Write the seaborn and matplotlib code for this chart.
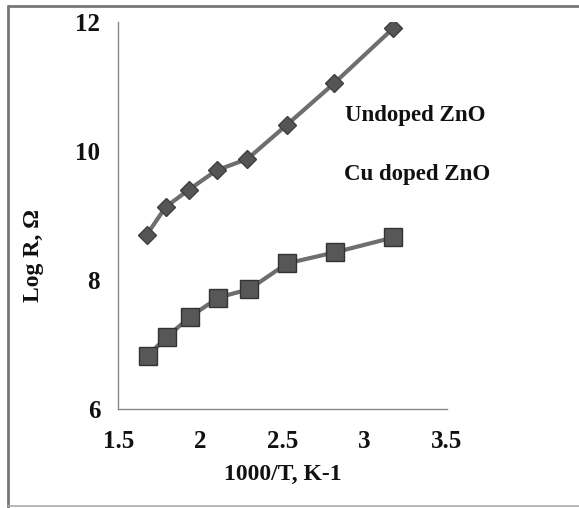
import matplotlib
matplotlib.use("Agg")
import matplotlib.pyplot as plt
import seaborn as sns
import pandas as pd
from matplotlib.lines import Line2D

x_undoped = [1.673, 1.788, 1.930, 2.099, 2.286, 2.525, 2.816, 3.175]
y_undoped = [8.70, 9.13, 9.40, 9.70, 9.875, 10.40, 11.05, 11.90]
x_cu = [1.679, 1.795, 1.937, 2.109, 2.298, 2.529, 2.820, 3.175]
y_cu = [6.83, 7.12, 7.43, 7.73, 7.86, 8.26, 8.43, 8.66]
xticks = [1.5, 2, 2.5, 3, 3.5]
xticklabels = ["1.5", "2", "2.5", "3", "3.5"]
yticks = [6, 8, 10, 12]
labels = ["Undoped ZnO", "Cu doped ZnO"]

sns.set_style("white")
plt.rcParams['font.family'] = ['Liberation Serif', 'DejaVu Serif']
plt.rcParams['font.weight'] = 'bold'

df1 = pd.DataFrame({"x": x_undoped, "y": y_undoped})
df2 = pd.DataFrame({"x": x_cu, "y": y_cu})

W, H = 579, 508
fig = plt.figure(figsize=(5.79, 5.08), dpi=100)
L, R, B, T = 118.3, 446.7, 409.3, 21.7
ax = fig.add_axes([L / W, 1 - B / H, (R - L) / W, (B - T) / H])

sns.lineplot(data=df1, x="x", y="y", ax=ax, color="#6e6e6e", linewidth=3.0,
             marker="D", markersize=9, markerfacecolor="#555555",
             markeredgecolor="#3f3f3f", markeredgewidth=1.0)
sns.lineplot(data=df2, x="x", y="y", ax=ax, color="#6e6e6e", linewidth=3.0,
             marker="s", markersize=13, markerfacecolor="#575757",
             markeredgecolor="#333333", markeredgewidth=1.0)

ax.set_xlim(1.5, 3.5)
ax.set_ylim(6, 12)
ax.set_xticks(xticks)
ax.set_xticklabels(xticklabels)
ax.set_yticks(yticks)
ax.set_yticklabels([str(t) for t in yticks])
for s in ["top", "right"]:
    ax.spines[s].set_visible(False)
for s in ["left", "bottom"]:
    ax.spines[s].set_color("#888888")
    ax.spines[s].set_linewidth(1.0)
ax.tick_params(axis="both", direction="out", length=6, width=1.0, color="#888888",
               labelsize=18, labelcolor="#111111")
ax.tick_params(axis="x", pad=9)
ax.tick_params(axis="y", pad=7)
ax.set_xlabel("")
ax.set_ylabel("")
ax.patch.set_alpha(0)

fig.text(283 / W, 1 - 474 / H, "1000/T, K-1", fontsize=17, fontweight="bold",
         color="#111111", ha="center", va="center")
fig.text(33 / W, 1 - 256 / H, "Log R, Ω", fontsize=17, fontweight="bold",
         color="#111111", ha="center", va="center", rotation=90)

fig.text(345 / W, 1 - 115 / H, labels[0], fontsize=16.5, fontweight="bold", color="#111111", va="center")
fig.text(344 / W, 1 - 174 / H, labels[1], fontsize=16.5, fontweight="bold", color="#111111", va="center")

# outer frame of the scanned figure
fig.add_artist(Line2D([8 / W, 8 / W], [0.0, 1 - 6 / H], transform=fig.transFigure, color="#777777", linewidth=2))
fig.add_artist(Line2D([8 / W, 1.0], [1 - 6 / H, 1 - 6 / H], transform=fig.transFigure, color="#777777", linewidth=2))
fig.add_artist(Line2D([8 / W, 1.0], [1 - 506 / H, 1 - 506 / H], transform=fig.transFigure, color="#aaaaaa", linewidth=1.2))

fig.savefig("out.png", dpi=100)
